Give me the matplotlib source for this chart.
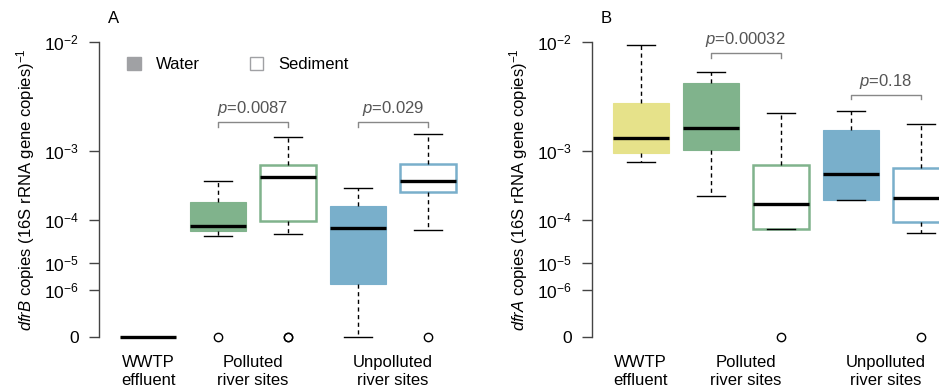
import numpy as np
import matplotlib
matplotlib.use("Agg")
import matplotlib.pyplot as plt
from matplotlib.patches import Patch

plt.rcParams['font.family'] = ['Liberation Sans', 'DejaVu Sans']
plt.rcParams['mathtext.fontset'] = 'custom'
plt.rcParams['mathtext.rm'] = 'Liberation Sans'
plt.rcParams['mathtext.it'] = 'Liberation Sans:italic'

# box order: WWTP water, polluted water, polluted sediment, unpolluted water, unpolluted sediment
positions = [1, 2, 3, 4, 5]
group_pos = [1, 2.5, 4.5]
group_labels = ['WWTP\neffluent', 'Polluted\nriver sites', 'Unpolluted\nriver sites']

# panel A: dfrB
dfrB_whislo = [0, 4.8e-5, 5.3e-5, 0, 6.2e-5]
dfrB_q1 = [0, 5.9e-5, 9.6e-5, 1.8e-6, 2.9e-4]
dfrB_med = [0, 7.6e-5, 4.7e-4, 7.0e-5, 4.1e-4]
dfrB_q3 = [0, 2.0e-4, 6.8e-4, 1.76e-4, 7.0e-4]
dfrB_whishi = [0, 4.1e-4, 1.45e-3, 3.3e-4, 1.54e-3]
dfrB_fliers = [[], [0], [0, 0], [], [0]]

# panel B: dfrA
dfrA_whislo = [7.3e-4, 2.5e-4, 6.7e-5, 2.2e-4, 5.6e-5]
dfrA_q1 = [9.4e-4, 1.04e-3, 6.7e-5, 2.2e-4, 9.2e-5]
dfrA_med = [1.41e-3, 1.8e-3, 1.9e-4, 5.1e-4, 2.3e-4]
dfrA_q3 = [3.14e-3, 4.8e-3, 6.8e-4, 1.7e-3, 6.2e-4]
dfrA_whishi = [9.6e-3, 5.9e-3, 2.56e-3, 2.68e-3, 1.98e-3]
dfrA_fliers = [[], [], [0], [], [0]]

# p-values: (left box, right box, bracket height, label)
dfrB_pvals = [(2, 3, 2.05e-3, '0.0087'), (4, 5, 2.05e-3, '0.029')]
dfrA_pvals = [(2, 3, 8.3e-3, '0.00032'), (4, 5, 3.74e-3, '0.18')]

yticks = [0, 1e-6, 1e-5, 1e-4, 1e-3, 1e-2]
ytick_labels = ['0', r'$10^{-6}$', r'$10^{-5}$', r'$10^{-4}$', r'$10^{-3}$', r'$10^{-2}$']

yellow = '#E6E28A'
green = '#80B38C'
blue = '#79AFCB'
faces = [yellow, green, 'white', blue, 'white']
edges = [yellow, green, green, blue, blue]


def fwd(y):
    y = np.asarray(y, dtype=float)
    return np.sign(y) * np.abs(y) ** 0.2


def inv(t):
    t = np.asarray(t, dtype=float)
    return np.sign(t) * np.abs(t) ** 5


def panel(ax, whislo, q1, med, q3, whishi, fliers, pvals, ylabel, letter):
    stats = []
    for i in range(len(positions)):
        stats.append(dict(whislo=whislo[i], q1=q1[i], med=med[i], q3=q3[i],
                          whishi=whishi[i], fliers=fliers[i]))
    bp = ax.bxp(stats, positions=positions, widths=0.8, patch_artist=True,
                showfliers=True,
                whiskerprops=dict(color='black', lw=1, linestyle=(0, (3, 2.5))),
                capprops=dict(color='black', lw=1),
                medianprops=dict(color='black', lw=2.4, solid_capstyle='butt'),
                flierprops=dict(marker='o', markerfacecolor='none',
                                markeredgecolor='black', markersize=6,
                                markeredgewidth=1))
    for i, b in enumerate(bp['boxes']):
        b.set_facecolor(faces[i])
        b.set_edgecolor(edges[i])
        b.set_linewidth(1.8 if faces[i] == 'white' else 0.8)
    for c in bp['caps']:
        mid = np.mean(c.get_xdata())
        c.set_xdata([mid - 0.2, mid + 0.2])
    for art in bp['whiskers'] + bp['caps'] + bp['medians'] + bp['fliers'] + bp['boxes']:
        art.set_clip_on(False)

    ax.set_yscale('function', functions=(fwd, inv))
    ax.set_ylim(0, 1e-2)
    ax.set_xlim(0.3, 5.7)
    ax.set_yticks(yticks)
    ax.set_yticklabels(ytick_labels)
    ax.set_xticks(group_pos)
    ax.set_xticklabels(group_labels, fontsize=12, linespacing=1.25)
    ax.tick_params(axis='x', length=0, pad=13)
    ax.tick_params(axis='y', length=7.5, width=1, color='#444444', pad=7,
                   labelsize=12.5)
    for s in ['top', 'right', 'bottom']:
        ax.spines[s].set_visible(False)
    ax.spines['left'].set_color('#444444')
    ax.spines['left'].set_linewidth(1)
    ax.set_ylabel(ylabel, fontsize=12, labelpad=5)

    for x1, x2, yb, lab in pvals:
        ylo = inv(fwd(yb) - 0.006)
        ax.plot([x1, x1, x2, x2], [ylo, yb, yb, ylo], color='#888888', lw=1,
                clip_on=False)
        ax.annotate(r'$\it{p}$=' + lab, xy=((x1 + x2) / 2, yb),
                    xytext=(0, 3), textcoords='offset points',
                    ha='center', va='bottom', fontsize=12, color='#555555',
                    annotation_clip=False)
    ax.text(0.024, 1.08, letter, transform=ax.transAxes, fontsize=12,
            ha='left', va='center')


fig = plt.figure(figsize=(9.39, 3.91), dpi=100)
axA = fig.add_axes([99 / 939, 54 / 391, 378 / 939, 294.7 / 391])
axB = fig.add_axes([591.7 / 939, 54 / 391, 378 / 939, 294.7 / 391])

panel(axA, dfrB_whislo, dfrB_q1, dfrB_med, dfrB_q3, dfrB_whishi, dfrB_fliers,
      dfrB_pvals, r'$\it{dfrB}$ copies (16S rRNA gene copies)$^{-1}$', 'A')
panel(axB, dfrA_whislo, dfrA_q1, dfrA_med, dfrA_q3, dfrA_whishi, dfrA_fliers,
      dfrA_pvals, r'$\it{dfrA}$ copies (16S rRNA gene copies)$^{-1}$', 'B')

# legend
handles = [Patch(facecolor='#A0A1A4', edgecolor='#A0A1A4', label='Water'),
           Patch(facecolor='white', edgecolor='#A0A1A4', label='Sediment')]
axA.legend(handles=handles, loc='upper left', bbox_to_anchor=(0.035, 1.0),
           ncol=2, frameon=False, fontsize=12, handlelength=0.8,
           handleheight=0.8, columnspacing=3.0, handletextpad=0.9)

fig.savefig('out.png', dpi=100)
